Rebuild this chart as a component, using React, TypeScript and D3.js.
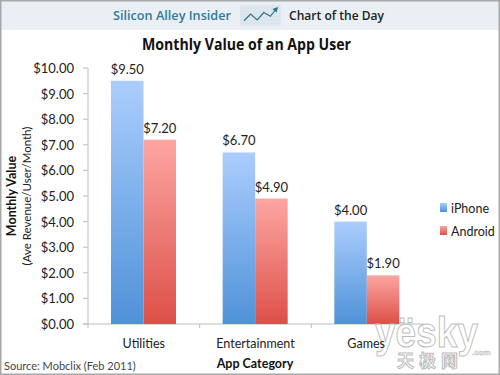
import React from "react";
import * as d3 from "d3";

const categories = ["Utilities", "Entertainment", "Games"];
const iphone = [9.5, 6.7, 4.0];
const android = [7.2, 4.9, 1.9];
const seriesNames = ["iPhone", "Android"];
const yTicks = [0, 1, 2, 3, 4, 5, 6, 7, 8, 9, 10];
const sparkline: [number, number][] = [[0, 0.15], [1, 0.6], [2, 0.2], [3, 0.7], [4, 0.45], [5, 1]];
const font = "Lato, 'Open Sans', sans-serif";

export default function App() {
  const y = d3.scaleLinear().domain([0, 10]).range([324, 68]);
  const x0 = d3.scaleBand().domain(categories).range([88, 423]);
  const x1 = d3.scaleBand().domain(seriesNames).range([23, 88]);
  const bw = x1.bandwidth();
  const fmt = d3.format("$.2f");
  const sx = d3.scaleLinear().domain([0, 5]).range([244, 277]);
  const sy = d3.scaleLinear().domain([0, 1]).range([23, 8]);
  const spark = d3.line<[number, number]>().x((d) => sx(d[0])).y((d) => sy(d[1]))(sparkline) as string;
  const bars = [
    { name: "iPhone", values: iphone, fill: "url(#blue)" },
    { name: "Android", values: android, fill: "url(#red)" },
  ];
  return (
    <svg width={500} height={375} viewBox="0 0 500 375" style={{ position: "absolute", left: 0, top: 0, fontFamily: font }}>
      <defs>
        <linearGradient id="blue" x1="0" y1="0" x2="0" y2="1">
          <stop offset="0" stopColor="#abcdfd" />
          <stop offset="1" stopColor="#4f92d8" />
        </linearGradient>
        <linearGradient id="red" x1="0" y1="0" x2="0" y2="1">
          <stop offset="0" stopColor="#fda6a2" />
          <stop offset="1" stopColor="#dc5048" />
        </linearGradient>
      </defs>
      <rect x={0} y={0} width={500} height={375} fill="#fff" />
      <rect x={0} y={0} width={500} height={30} fill="#e9eff4" />
      <rect x={240} y={5} width={41} height={21} fill="#dfe8ef" />
      {[8, 11, 14, 17, 20, 23].map((v) => (
        <line key={v} x1={240} x2={281} y1={v} y2={v} stroke="#cfdce6" strokeWidth={0.7} />
      ))}
      <path d={spark} fill="none" stroke="#2f6f8f" strokeWidth={1.2} />
      <path d="M278,7 L272.5,9 L276.5,12.5 Z" fill="#2f6f8f" />
      <text x={113} y={20} fontSize={12.5} fontWeight={600} fill="#2f7b9a" fontFamily="'Open Sans', sans-serif" textLength={118} lengthAdjust="spacingAndGlyphs">Silicon Alley Insider</text>
      <text x={289} y={20} fontSize={12.5} fontWeight={600} fill="#222" fontFamily="'Open Sans', sans-serif" textLength={95} lengthAdjust="spacingAndGlyphs">Chart of the Day</text>
      <text x={142} y={50} fontSize={16} fontWeight={700} fill="#111" fontFamily="'Open Sans', sans-serif" textLength={209} lengthAdjust="spacingAndGlyphs">Monthly Value of an App User</text>

      <line x1={88} x2={88} y1={y(10)} y2={y(0)} stroke="#bdbdbd" />
      <line x1={83} x2={423} y1={y(0)} y2={y(0)} stroke="#bdbdbd" />
      {yTicks.map((t) => (
        <g key={t}>
          <line x1={83} x2={88} y1={y(t)} y2={y(t)} stroke="#bdbdbd" />
          <text x={74} y={y(t) + 5} textAnchor="end" fontSize={13} fill="#222">{fmt(t)}</text>
        </g>
      ))}
      {[...categories.map((c) => x0(c) as number), 423].map((v) => (
        <line key={v} x1={v} x2={v} y1={y(0)} y2={y(0) + 4} stroke="#bdbdbd" />
      ))}
      {bars.map((s) =>
        s.values.map((v, i) => {
          const xp = (x0(categories[i]) as number) + (x1(s.name) as number);
          return (
            <g key={s.name + i}>
              <rect x={xp} y={y(v)} width={bw} height={y(0) - y(v)} fill={s.fill} />
              <text x={xp + bw / 2} y={y(v) - 7} textAnchor="middle" fontSize={13} fill="#222">{fmt(v)}</text>
            </g>
          );
        })
      )}
      <g fontFamily="'Liberation Sans', sans-serif" fill="#fff" fillOpacity={0.4} stroke="#bcbcbc" strokeWidth={1}>
        <text x={375} y={347} fontSize={42} fontWeight={700} textLength={103} lengthAdjust="spacingAndGlyphs">yësky</text>
        <text x={472} y={355} fontSize={8} fontWeight={700} strokeWidth={0.5}>.com</text>
        <text x={397} y={367} fontSize={17} fontWeight={700} letterSpacing={5} fontFamily="'Noto Sans CJK SC'">天极网</text>
      </g>
      {categories.map((c) => (
        <text key={c} x={(x0(c) as number) + x0.bandwidth() / 2 - (c === "Games" ? 1 : 0)} y={348} textAnchor="middle" fontSize={12.5} fill="#222">{c}</text>
      ))}
      <text x={255} y={368} textAnchor="middle" fontSize={12.5} fontWeight={700} fill="#111">App Category</text>
      <text x={4} y={370} fontSize={11} fill="#444">Source: Mobclix (Feb 2011)</text>

      <text transform="translate(16,196) rotate(-90)" textAnchor="middle" fontSize={12.5} fontWeight={700} fill="#111">Monthly Value</text>
      <text transform="translate(31,196) rotate(-90)" textAnchor="middle" fontSize={11.5} fill="#222">(Ave Revenue/User/Month)</text>

      {bars.map((s, i) => (
        <g key={s.name}>
          <rect x={440} y={203 + i * 23} width={7} height={9} fill={s.fill} />
          <text x={451} y={213 + i * 23} fontSize={12.5} fill="#222">{s.name}</text>
        </g>
      ))}

      <rect x={0.75} y={0.75} width={498.5} height={373.5} fill="none" stroke="#a8a8a8" strokeWidth={1.5} />
    </svg>
  );
}
